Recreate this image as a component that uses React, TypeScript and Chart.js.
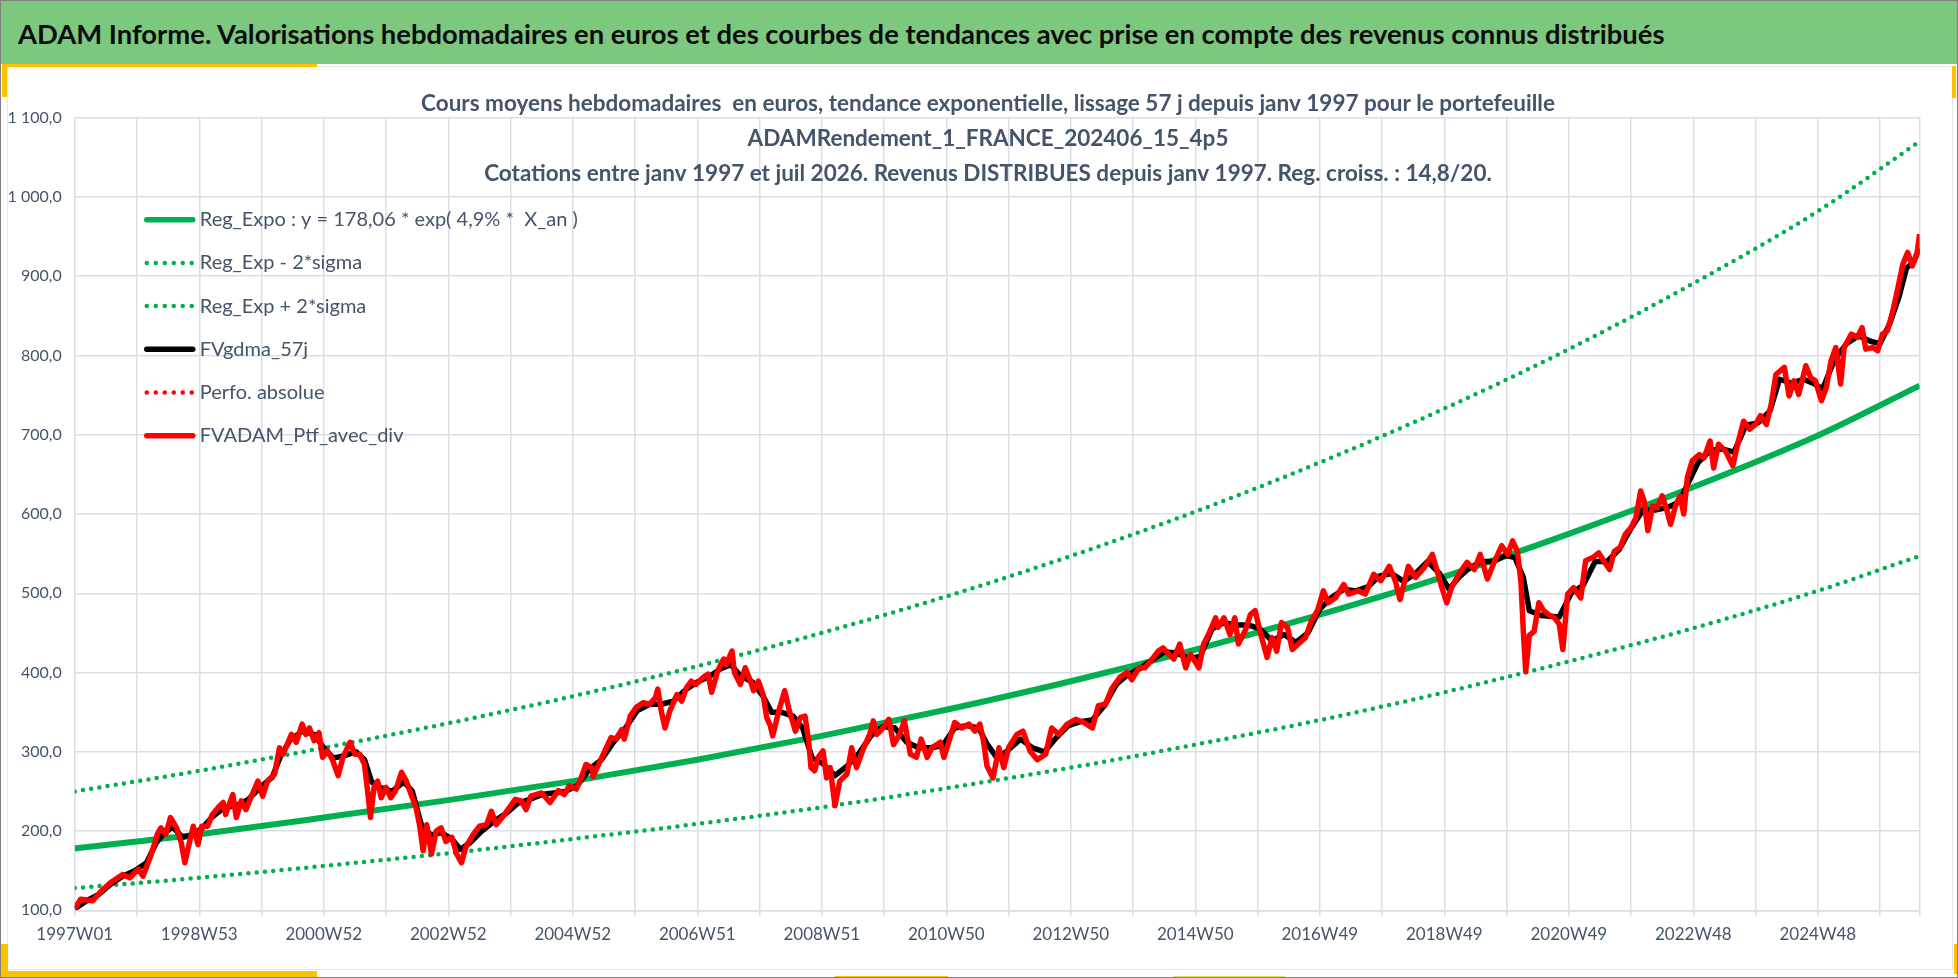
import { useEffect, useRef } from "react";
import { Chart, registerables } from "chart.js";

Chart.register(...registerables);

const FONT = "Lato, 'Open Sans', sans-serif";
const SLATE = "#44546a";
const GRID = "#dadee6";

const headerTitle =
  "ADAM Informe. Valorisations hebdomadaires en euros et des courbes de tendances avec prise en compte des revenus connus distribués";

const chartTitleLines = [
  "Cours moyens hebdomadaires  en euros, tendance exponentielle, lissage 57 j depuis janv 1997 pour le portefeuille",
  "ADAMRendement_1_FRANCE_202406_15_4p5",
  "Cotations entre janv 1997 et juil 2026. Revenus DISTRIBUES depuis janv 1997. Reg. croiss. : 14,8/20.",
];

// x axis = week index from 1997W01 (0) to 2026W29 (1541)
const lastWeek = 1541;
const weekTickLabels = [
  "1997W01", "1998W53", "2000W52", "2002W52", "2004W52", "2006W51", "2008W51", "2010W50",
  "2012W50", "2014W50", "2016W49", "2018W49", "2020W49", "2022W48", "2024W48",
];

// trend curves, read every 104 weeks plus the last week
const trendWeeks = [0, 104, 208, 312, 416, 520, 624, 728, 832, 936, 1040, 1144, 1248, 1352, 1456, 1541];
const regExpo = [178, 196, 217, 239, 263, 290, 320, 353, 389, 429, 473, 521, 575, 634, 699, 762];
const regExpLow = [128, 141, 156, 172, 190, 209, 230, 254, 280, 309, 340, 375, 414, 456, 503, 547];
const regExpHigh = [250, 276, 305, 336, 370, 408, 450, 496, 547, 603, 665, 733, 808, 891, 982, 1070];

// FVgdma_57j (smoothed), [week, value]
const gdmaPoints: [number, number][] = [
  [0, 102], [10, 112], [20, 120], [30, 133], [40, 143], [50, 150], [60, 160], [68, 185], [75, 198],
  [82, 205], [90, 192], [98, 195], [106, 203], [115, 218], [125, 230], [135, 232], [145, 240],
  [155, 255], [165, 268], [172, 295], [180, 315], [190, 326], [200, 322], [208, 305], [216, 292],
  [225, 295], [235, 300], [242, 290], [248, 262], [255, 255], [265, 250], [275, 262], [282, 250],
  [290, 205], [298, 195], [306, 198], [315, 190], [322, 177], [330, 185], [340, 200], [350, 212],
  [360, 222], [370, 235], [380, 240], [390, 246], [400, 248], [410, 250], [420, 258], [430, 278],
  [440, 290], [450, 312], [460, 330], [470, 352], [480, 360], [490, 360], [500, 364], [510, 378],
  [520, 388], [530, 395], [540, 405], [548, 410], [556, 396], [566, 388], [575, 370], [582, 350],
  [590, 350], [600, 345], [608, 330], [616, 292], [625, 285], [635, 270], [645, 282], [655, 298],
  [665, 320], [675, 332], [685, 330], [695, 312], [705, 305], [715, 305], [725, 308], [735, 330],
  [745, 333], [755, 330], [762, 310], [770, 293], [778, 300], [790, 316], [800, 305], [810, 300],
  [820, 318], [830, 333], [840, 338], [850, 340], [860, 358], [870, 385], [880, 398], [890, 405],
  [900, 416], [910, 426], [920, 425], [930, 418], [940, 420], [950, 455], [960, 463], [970, 460],
  [980, 460], [990, 455], [1000, 440], [1010, 448], [1020, 438], [1030, 450], [1040, 480],
  [1050, 495], [1060, 505], [1070, 503], [1080, 508], [1090, 522], [1100, 525], [1110, 515],
  [1120, 525], [1130, 540], [1140, 525], [1148, 505], [1156, 520], [1165, 532], [1175, 540],
  [1185, 540], [1195, 548], [1203, 545], [1210, 520], [1215, 478], [1225, 472], [1240, 470],
  [1250, 500], [1260, 510], [1270, 540], [1280, 540], [1290, 555], [1300, 582], [1310, 605],
  [1320, 605], [1330, 608], [1340, 615], [1348, 640], [1356, 665], [1366, 680], [1376, 682],
  [1386, 678], [1396, 712], [1406, 715], [1416, 730], [1424, 770], [1434, 765], [1444, 770],
  [1452, 765], [1460, 758], [1470, 795], [1480, 815], [1490, 825], [1500, 818], [1508, 815],
  [1516, 840], [1524, 875], [1530, 910], [1536, 918], [1541, 935],
];

// FVADAM_Ptf_avec_div (weekly), [week, value]
const ptfPoints: [number, number][] = [
  [0, 102], [5, 114], [15, 112], [22, 124], [30, 135], [40, 145], [46, 141], [53, 152], [57, 143],
  [64, 171], [69, 196], [72, 204], [76, 196], [80, 217], [85, 204], [89, 185], [92, 160], [96, 187],
  [99, 206], [103, 183], [106, 206], [111, 206], [115, 221], [120, 230], [124, 236], [126, 221],
  [132, 246], [135, 217], [139, 238], [143, 227], [147, 242], [153, 263], [157, 244], [161, 263],
  [167, 272], [171, 305], [174, 297], [181, 322], [185, 312], [190, 335], [193, 322], [196, 330],
  [200, 314], [204, 324], [207, 293], [211, 301], [215, 291], [220, 270], [224, 293], [230, 312],
  [234, 297], [238, 297], [242, 284], [245, 246], [247, 217], [250, 255], [253, 263], [256, 242],
  [260, 255], [264, 242], [268, 251], [273, 274], [277, 263], [281, 246], [285, 230], [288, 208],
  [291, 175], [294, 208], [298, 171], [302, 200], [306, 204], [310, 187], [315, 192], [319, 171],
  [323, 160], [327, 181], [333, 196], [338, 206], [344, 208], [348, 225], [352, 208], [359, 221],
  [368, 240], [373, 238], [377, 227], [381, 244], [390, 248], [397, 236], [404, 251], [409, 246],
  [413, 257], [419, 253], [423, 267], [427, 284], [432, 280], [433, 269], [440, 292], [448, 318],
  [452, 316], [457, 328], [459, 316], [464, 345], [469, 356], [475, 362], [480, 360], [485, 368],
  [487, 379], [490, 351], [493, 330], [497, 351], [503, 372], [507, 364], [511, 381], [515, 389],
  [519, 385], [525, 394], [529, 398], [532, 375], [537, 402], [542, 417], [544, 410], [549, 427],
  [551, 400], [556, 385], [560, 406], [564, 391], [567, 377], [571, 389], [575, 372], [578, 343],
  [581, 333], [583, 320], [588, 351], [593, 377], [597, 351], [602, 326], [606, 343], [610, 345],
  [613, 314], [615, 280], [618, 276], [621, 293], [625, 301], [628, 267], [631, 280], [635, 232],
  [639, 263], [645, 272], [649, 305], [653, 280], [659, 305], [664, 322], [667, 339], [670, 322],
  [674, 328], [680, 341], [684, 309], [689, 322], [693, 339], [698, 297], [703, 293], [707, 316],
  [712, 293], [716, 305], [723, 312], [726, 293], [730, 312], [735, 337], [741, 330], [747, 335],
  [752, 326], [756, 335], [759, 314], [762, 282], [767, 267], [772, 305], [776, 280], [780, 305],
  [787, 322], [792, 326], [798, 301], [804, 290], [811, 297], [816, 330], [822, 322], [829, 335],
  [836, 341], [843, 337], [850, 330], [855, 358], [861, 360], [866, 379], [873, 394], [879, 400],
  [883, 391], [889, 406], [894, 406], [900, 417], [905, 427], [909, 431], [914, 423], [918, 417],
  [923, 436], [928, 406], [932, 423], [939, 406], [943, 436], [947, 448], [953, 469], [955, 457],
  [960, 469], [965, 448], [969, 469], [972, 436], [978, 454], [982, 473], [986, 478], [990, 452],
  [996, 419], [1000, 444], [1004, 427], [1008, 463], [1013, 457], [1017, 429], [1022, 436],
  [1028, 444], [1033, 465], [1038, 478], [1043, 503], [1047, 488], [1053, 494], [1060, 511],
  [1064, 499], [1072, 503], [1078, 499], [1085, 524], [1091, 516], [1098, 534], [1103, 516],
  [1107, 492], [1114, 534], [1120, 520], [1127, 532], [1134, 549], [1138, 528], [1142, 507],
  [1146, 488], [1150, 507], [1156, 524], [1163, 539], [1169, 530], [1174, 549], [1180, 518],
  [1185, 537], [1192, 560], [1197, 549], [1201, 566], [1205, 553], [1208, 515], [1210, 452],
  [1212, 401], [1215, 447], [1219, 452], [1223, 488], [1227, 478], [1231, 473], [1236, 469],
  [1240, 461], [1243, 429], [1247, 499], [1252, 507], [1258, 494], [1262, 541], [1268, 545],
  [1273, 551], [1277, 541], [1282, 530], [1286, 553], [1291, 558], [1295, 574], [1300, 583],
  [1304, 595], [1308, 629], [1311, 616], [1314, 579], [1318, 610], [1322, 608], [1326, 623],
  [1330, 604], [1333, 587], [1337, 610], [1341, 623], [1344, 600], [1347, 646], [1351, 667],
  [1357, 675], [1361, 671], [1366, 692], [1369, 658], [1373, 688], [1379, 679], [1385, 661],
  [1389, 688], [1394, 717], [1399, 707], [1404, 713], [1408, 724], [1413, 713], [1417, 738],
  [1421, 776], [1428, 785], [1432, 749], [1436, 768], [1440, 751], [1446, 787], [1450, 772],
  [1454, 768], [1459, 743], [1463, 759], [1467, 793], [1471, 810], [1475, 764], [1478, 810],
  [1484, 827], [1489, 823], [1493, 835], [1496, 808], [1502, 810], [1506, 806], [1510, 827],
  [1514, 831], [1518, 852], [1523, 886], [1527, 915], [1531, 930], [1535, 913], [1539, 930],
  [1541, 953],
];

const legendItems = [
  { label: "Reg_Expo : y = 178,06 * exp( 4,9% *  X_an )", color: "#00b050", dotted: false },
  { label: "Reg_Exp - 2*sigma", color: "#00b050", dotted: true },
  { label: "Reg_Exp + 2*sigma", color: "#00b050", dotted: true },
  { label: "FVgdma_57j", color: "#000000", dotted: false },
  { label: "Perfo. absolue", color: "#ff0000", dotted: true },
  { label: "FVADAM_Ptf_avec_div", color: "#ff0000", dotted: false },
];

const formatEuro = (v: number) => {
  const [i, d] = v.toFixed(1).split(".");
  return i.replace(/\B(?=(\d{3})+(?!\d))/g, " ") + "," + d;
};

// legend and the three title lines sit inside the plot, over the grid
const overlayPlugin = {
  id: "overlay",
  afterDraw(chart: any) {
    const { ctx, chartArea } = chart;
    ctx.save();
    ctx.textBaseline = "middle";
    ctx.font = `20px ${FONT}`;
    legendItems.forEach((item, i) => {
      const y = chartArea.top + 102 + i * 43.2;
      const x0 = chartArea.left + 72;
      ctx.beginPath();
      ctx.strokeStyle = item.color;
      ctx.lineWidth = item.dotted ? 4.5 : 5.5;
      ctx.lineCap = "round";
      ctx.setLineDash(item.dotted ? [0, 9] : []);
      ctx.moveTo(x0, y);
      ctx.lineTo(x0 + 46, y);
      ctx.stroke();
      ctx.setLineDash([]);
      ctx.fillStyle = SLATE;
      ctx.textAlign = "left";
      ctx.fillText(item.label, x0 + 53, y);
    });
    ctx.font = `bold 22.5px ${FONT}`;
    ctx.textAlign = "center";
    ctx.fillStyle = SLATE;
    chartTitleLines.forEach((t, i) => {
      ctx.fillText(t, 987, chartArea.top - 14 + i * 35);
    });
    ctx.restore();
  },
};

const ChartPanel = () => {
  const canvasRef = useRef<HTMLCanvasElement>(null);

  useEffect(() => {
    if (!canvasRef.current) return;

    const trend = (values: number[]) => trendWeeks.map((w, i) => ({ x: w, y: values[i] }));
    const dottedGreen = {
      borderColor: "#00b050",
      borderWidth: 4.5,
      borderDash: [0, 8.3],
      borderCapStyle: "round" as const,
      pointRadius: 0,
      cubicInterpolationMode: "monotone" as const,
    };

    const chart = new Chart(canvasRef.current, {
      type: "line",
      data: {
        datasets: [
          {
            label: "FVADAM_Ptf_avec_div",
            data: ptfPoints.map(([x, y]) => ({ x, y })),
            borderColor: "#ff0000",
            borderWidth: 5.5,
            pointRadius: 0,
            borderJoinStyle: "round",
          },
          {
            label: "Perfo. absolue",
            data: [],
            borderColor: "#ff0000",
            borderWidth: 4,
            borderDash: [0, 8],
            pointRadius: 0,
          },
          {
            label: "FVgdma_57j",
            data: gdmaPoints.map(([x, y]) => ({ x, y })),
            borderColor: "#000000",
            borderWidth: 5.5,
            pointRadius: 0,
            borderJoinStyle: "round",
          },
          {
            label: "Reg_Expo",
            data: trend(regExpo),
            borderColor: "#00b050",
            borderWidth: 6,
            pointRadius: 0,
            cubicInterpolationMode: "monotone",
          },
          { label: "Reg_Exp + 2*sigma", data: trend(regExpHigh), ...dottedGreen },
          { label: "Reg_Exp - 2*sigma", data: trend(regExpLow), ...dottedGreen },
        ],
      },
      options: {
        responsive: true,
        maintainAspectRatio: false,
        animation: false,
        events: [],
        layout: { padding: { left: 0, right: 39.4, top: 116.7, bottom: 0 } },
        plugins: {
          legend: { display: false },
          title: { display: false },
          tooltip: { enabled: false },
        },
        scales: {
          x: {
            type: "linear",
            min: 0,
            max: lastWeek,
            bounds: "data",
            afterFit: (scale: any) => {
              scale.height = 68.7;
            },
            grid: { color: GRID, lineWidth: 1.5, tickLength: 6, drawTicks: true },
            border: { color: GRID, width: 1.5 },
            ticks: {
              stepSize: 52,
              autoSkip: false,
              maxRotation: 0,
              includeBounds: false,
              padding: 8,
              color: SLATE,
              font: { family: FONT, size: 17 },
              callback: (v: any) => {
                const n = Number(v);
                return n % 104 === 0 ? weekTickLabels[n / 104] ?? "" : "";
              },
            },
          },
          y: {
            min: 100,
            max: 1100,
            afterFit: (scale: any) => {
              scale.width = 73.75;
            },
            grid: { color: GRID, lineWidth: 1.5, drawTicks: false },
            border: { display: false },
            ticks: {
              stepSize: 100,
              padding: 13,
              color: SLATE,
              font: { family: FONT, size: 16 },
              callback: (v: any) => formatEuro(Number(v)),
            },
          },
        },
      },
      plugins: [overlayPlugin],
    });

    return () => {
      chart.destroy();
    };
  }, []);

  return (
    <div style={{ position: "absolute", left: 0, top: 0, width: 1958, height: 978 }}>
      <canvas ref={canvasRef} />
    </div>
  );
};

const yellow = "#ffc000";

const App = () => {
  return (
    <div
      style={{
        position: "absolute",
        left: 0,
        top: 0,
        width: 1958,
        height: 978,
        background: "#ffffff",
        boxSizing: "border-box",
        border: "1px solid #7f7f7f",
        overflow: "hidden",
        fontFamily: FONT,
      }}
    >
      <div
        style={{
          position: "absolute",
          left: 0,
          top: 0,
          width: 1958,
          height: 63,
          background: "#7dc87f",
          color: "#0c0c0c",
          fontWeight: 700,
          fontSize: 27.4,
          lineHeight: "66px",
          paddingLeft: 17,
          boxSizing: "border-box",
          whiteSpace: "nowrap",
        }}
      >
        {headerTitle}
      </div>
      <div
        style={{
          position: "absolute",
          left: 6,
          top: 65,
          width: 1946,
          height: 904,
          border: "1.5px solid #e3e5ea",
          boxSizing: "border-box",
        }}
      />
      <div style={{ position: "absolute", left: 6, top: 63, width: 310, height: 3, background: yellow }} />
      <div style={{ position: "absolute", left: 1, top: 63, width: 5, height: 33, background: yellow }} />
      <div style={{ position: "absolute", right: 1, top: 65, width: 4, height: 32, background: yellow }} />
      <div style={{ position: "absolute", left: 0, top: 943, width: 7, height: 34, background: yellow }} />
      <div style={{ position: "absolute", left: 0, top: 970, width: 316, height: 7, background: yellow }} />
      <div style={{ position: "absolute", left: 834, top: 975, width: 113, height: 2, background: yellow }} />
      <div style={{ position: "absolute", left: 1172, top: 975, width: 112, height: 2, background: "#e6dc5a" }} />
      <div style={{ position: "absolute", right: 0, top: 943, width: 3, height: 30, background: yellow }} />
      <ChartPanel />
    </div>
  );
};

export default App;
